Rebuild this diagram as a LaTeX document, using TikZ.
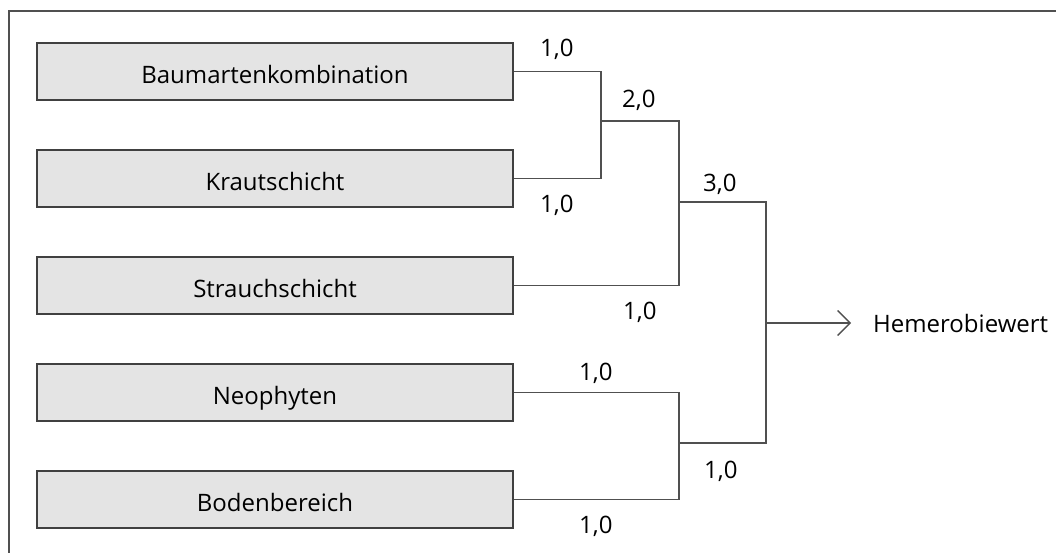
\documentclass[tikz,border=0pt]{standalone}
\usepackage{fontspec}
\setmainfont{Open Sans}
\usetikzlibrary{arrows.meta}
\definecolor{boxfill}{HTML}{E4E4E4}
\definecolor{boxline}{HTML}{404040}
\definecolor{conline}{HTML}{505050}
\begin{document}
\begin{tikzpicture}[x=1pt,y=-1pt,
  font=\fontsize{24}{28}\selectfont,
  factor/.style={draw=boxline, line width=1.8pt, fill=boxfill, minimum width=476pt, minimum height=57pt,
     inner sep=0pt, text height=24pt, text depth=0pt},
  conn/.style={draw=conline, line width=1.5pt},
  weight/.style={anchor=base west, inner sep=0pt},
  frame/.style={draw=conline, line width=2pt}]
\useasboundingbox (0,0) rectangle (1056,553);
\draw[frame] (1056,11) -- (9,11) -- (9,553);

\node[factor] (b1) at (275,71.5) {Baumartenkombination};
\node[factor] (b2) at (275,178.5) {Krautschicht};
\node[factor] (b3) at (275,285.5) {Strauchschicht};
\node[factor] (b4) at (275,392.5) {Neophyten};
\node[factor] (b5) at (275,499.5) {Bodenbereich};

\coordinate (m1) at (601,121);
\coordinate (m2) at (679,202);
\coordinate (m3) at (766,323);
\coordinate (m4) at (679,443);

\node[anchor=west, inner sep=0pt] (out) at (873,323) {Hemerobiewert};

\draw[conn] (b1.east) -| (m1) |- (b2.east);
\draw[conn] (m1) -| (m2) |- (b3.east);
\draw[conn] (b4.east) -| (m4) |- (b5.east);
\draw[conn] (m2) -| (m3) |- (m4);
\draw[conn, -{Straight Barb[length=12.5pt, width=25pt, line width=1.3pt]}] (m3) -- ([xshift=-22pt]out.west);

\node[weight] (w1) at (540,57) {1,0};
\node[weight] (w2) at (540,213) {1,0};
\node[weight] (w12) at (622,108) {2,0};
\node[weight] (w3) at (623,319) {1,0};
\node[weight] (w123) at (703,192) {3,0};
\node[weight] (w4) at (579,380) {1,0};
\node[weight] (w5) at (579,533) {1,0};
\node[weight] (w45) at (704,478) {1,0};
\end{tikzpicture}
\end{document}
